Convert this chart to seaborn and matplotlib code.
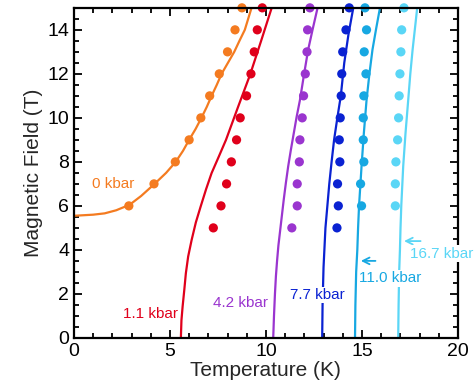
import numpy as np
import pandas as pd
import matplotlib
matplotlib.use("Agg")
import matplotlib.pyplot as plt
from matplotlib.ticker import MultipleLocator
import seaborn as sns

# ── data ─────────────────────────────────────────────────────
PRESSURES = ["0 kbar", "1.1 kbar", "4.2 kbar", "7.7 kbar", "11.0 kbar", "16.7 kbar"]
COLORS    = ["#f47b20", "#e0001b", "#9a35cf", "#0a22d2", "#17a8e2", "#5ad6f6"]

# measured points (T in K, H in T)
pts_0_H    = [6, 7, 8, 9, 10, 11, 12, 13, 14, 15]
pts_0_T    = [2.86, 4.17, 5.28, 6.0, 6.61, 7.07, 7.57, 8.0, 8.39, 8.75]
pts_1_H    = [5, 6, 7, 8, 9, 10, 11, 12, 13, 14, 15]
pts_1_T    = [7.26, 7.66, 7.95, 8.2, 8.47, 8.66, 8.99, 9.22, 9.39, 9.55, 9.81]
pts_4_H    = [5, 6, 7, 8, 9, 10, 11, 12, 13, 14, 15]
pts_4_T    = [11.35, 11.63, 11.63, 11.74, 11.77, 11.89, 11.96, 12.05, 12.14, 12.17, 12.29]
pts_7_H    = [5, 6, 7, 8, 9, 10, 11, 12, 13, 14, 15]
pts_7_T    = [13.7, 13.77, 13.73, 13.85, 13.82, 13.87, 13.92, 13.95, 14.0, 14.17, 14.34]
pts_11_H   = [6, 7, 8, 9, 10, 11, 12, 13, 14, 15]
pts_11_T   = [14.98, 14.93, 15.1, 15.07, 15.07, 15.1, 15.21, 15.12, 15.24, 15.16]
pts_16_H   = [6, 7, 8, 9, 10, 11, 12, 13, 14, 15]
pts_16_T   = [16.74, 16.74, 16.77, 16.86, 16.91, 16.94, 16.98, 17.03, 17.07, 17.19]

# fitted curves
fit_0_T  = [0, 1, 1.6, 2.2, 2.9, 3.5, 4.2, 4.8, 5.3, 5.68, 6.0, 6.34, 6.64, 6.92, 7.17,
            7.44, 7.69, 8.02, 8.35, 8.62, 8.9, 9.25]
fit_0_H  = [5.55, 5.6, 5.66, 5.8, 6.05, 6.45, 7.0, 7.5, 8.0, 8.5, 9.0, 9.5, 10, 10.5, 11,
            11.5, 12, 12.5, 13, 13.5, 14, 15]
fit_1_T  = [5.57, 5.6, 5.66, 5.75, 5.83, 5.95, 6.13, 6.35, 6.6, 6.88, 7.17, 7.55, 7.92,
            8.55, 9.17, 9.75, 10.3]
fit_1_H  = [0, 0.8, 1.42, 2.2, 2.94, 3.7, 4.45, 5.25, 5.97, 6.75, 7.49, 8.25, 9.0,
            10.5, 11.95, 13.5, 15]
fit_4_T  = [10.38, 10.42, 10.47, 10.52, 10.58, 10.65, 10.73, 10.83, 10.93, 11.04, 11.16,
            11.3, 11.45, 11.6, 11.77, 11.98, 12.2, 12.44, 12.69]
fit_4_H  = [0, 1, 2, 2.8, 3.5, 4.2, 4.8, 5.55, 6.3, 7.05, 7.8, 8.55, 9.3, 10.05, 10.8,
            11.95, 13.1, 14.05, 15]
fit_7_T  = [12.93, 12.95, 13.0, 13.05, 13.1, 13.2, 13.3, 13.42, 13.55, 13.72, 13.9,
            14.08, 14.3, 14.55]
fit_7_H  = [0, 1.5, 3.2, 4.1, 5, 6, 7, 8, 9, 10, 11, 12.5, 13.8, 15]
fit_11_T = [14.64, 14.66, 14.7, 14.76, 14.8, 14.85, 14.98, 15.1, 15.24, 15.39, 15.55,
            15.74, 15.94]
fit_11_H = [0, 1.5, 3, 4, 5, 6, 7.8, 9.3, 10.8, 12, 13.1, 14.05, 15]
fit_16_T = [16.89, 16.91, 16.94, 16.98, 17.01, 17.05, 17.15, 17.27, 17.41, 17.52, 17.64,
            17.76, 17.88]
fit_16_H = [0, 1.5, 3, 4, 5, 6, 7.8, 9.3, 10.8, 12, 13.1, 14.05, 15]

pts = [(pts_0_T, pts_0_H), (pts_1_T, pts_1_H), (pts_4_T, pts_4_H),
       (pts_7_T, pts_7_H), (pts_11_T, pts_11_H), (pts_16_T, pts_16_H)]
fits = [(fit_0_T, fit_0_H), (fit_1_T, fit_1_H), (fit_4_T, fit_4_H),
        (fit_7_T, fit_7_H), (fit_11_T, fit_11_H), (fit_16_T, fit_16_H)]

# ── style ────────────────────────────────────────────────────
sns.set_style("ticks")
plt.rcParams["font.family"] = ["Liberation Sans", "DejaVu Sans"]

fig = plt.figure(figsize=(4.77, 3.92), dpi=100)
ax = fig.add_axes([0.155, 0.138, 0.805, 0.842])

for (t, h), c in zip(fits, COLORS):
    sns.lineplot(x=t, y=h, sort=False, estimator=None, color=c, lw=1.6, ax=ax, zorder=2)
for (t, h), c in zip(pts, COLORS):
    sns.scatterplot(x=t, y=h, color=c, s=44, edgecolor="none", ax=ax, zorder=3, clip_on=False)

# labels (white boxes hide the lines underneath, as in the original)
box = dict(facecolor="white", edgecolor="none", pad=1)
FS = 11
ax.text(0.94, 7.0, PRESSURES[0], color=COLORS[0], fontsize=FS, va="center", ha="left")
ax.text(5.42, 1.1, PRESSURES[1], color=COLORS[1], fontsize=FS, va="center", ha="right")
ax.text(7.26, 1.6, PRESSURES[2], color=COLORS[2], fontsize=FS, va="center", ha="left")
ax.text(12.7, 1.95, PRESSURES[3], color=COLORS[3], fontsize=FS, va="center", ha="center",
        bbox=box, zorder=4)
ax.text(14.86, 2.7, PRESSURES[4], color=COLORS[4], fontsize=FS, va="center", ha="left",
        bbox=box, zorder=4)
ax.text(17.5, 3.82, PRESSURES[5], color=COLORS[5], fontsize=FS, va="center", ha="left",
        bbox=box, zorder=6, clip_on=False)

arrow = dict(arrowstyle="->", lw=1.3, mutation_scale=12)
ax.annotate("", xy=(14.8, 3.5), xytext=(15.85, 3.5),
            arrowprops=dict(arrow, color=COLORS[4]))
ax.annotate("", xy=(17.05, 4.4), xytext=(18.2, 4.4),
            arrowprops=dict(arrow, color=COLORS[5]))

ax.set_xlim(0, 20)
ax.set_ylim(0, 15)
ax.xaxis.set_major_locator(MultipleLocator(5))
ax.xaxis.set_minor_locator(MultipleLocator(1))
ax.yaxis.set_major_locator(MultipleLocator(2))
ax.yaxis.set_minor_locator(MultipleLocator(0.5))
ax.tick_params(which="both", direction="in", top=True, right=True, width=1.3, colors="black")
ax.tick_params(which="major", length=6, labelsize=14)
ax.tick_params(which="minor", length=3.5)
for sp in ax.spines.values():
    sp.set_linewidth(1.6)
    sp.set_color("black")
    sp.set_zorder(5)

ax.set_xlabel("Temperature (K)", fontsize=15, labelpad=1)
ax.set_ylabel("Magnetic Field (T)", fontsize=15, labelpad=3)

fig.savefig("out.png", dpi=100)
